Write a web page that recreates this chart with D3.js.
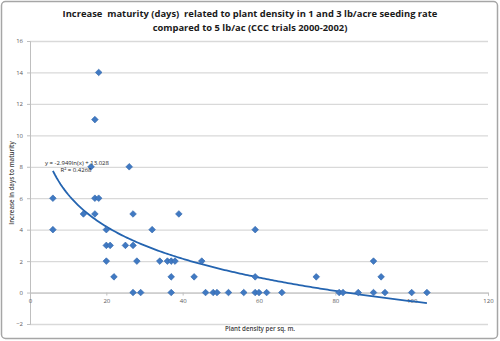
<!DOCTYPE html>
<html>
<head>
<meta charset="utf-8">
<script src="https://cdn.jsdelivr.net/npm/d3@7"></script>
<style>
  body { margin: 0; background: #fff; }
  text { font-family: "Open Sans", "DejaVu Sans", sans-serif; }
</style>
</head>
<body>
<div id="chart"></div>
<script>
// plant density (per sq. m.) and increase in days to maturity
var density = [6, 6, 14, 16, 17, 17, 17, 18, 18, 20, 20, 21, 20, 22, 25, 26, 27, 27, 28, 27, 29,
    32, 34, 36, 37, 38, 37, 37, 39, 43, 45, 46, 48, 49, 52, 56, 59, 59, 59, 60, 62, 66,
    75, 81, 82, 86, 90, 90, 92, 93, 100, 104];
var maturity = [6, 4, 5, 8, 11, 6, 5, 14, 6, 4, 3, 3, 2, 1, 3, 8, 5, 3, 2, 0, 0,
    4, 2, 2, 2, 2, 1, 0, 5, 1, 2, 0, 0, 0, 0, 0, 4, 1, 0, 0, 0, 0,
    1, 0, 0, 0, 2, 0, 1, 0, 0, 0];

// log trendline shown on the chart: y = a ln(x) + b
var trendA = -2.949, trendB = 13.028;
var trendRange = [6, 104];
var trendLabel = "y = -2.949ln(x) + 13.028";
var r2Label = "R\u00b2 = 0.4268";

var xTicks = [0, 20, 40, 60, 80, 100, 120];
var yTicks = [-2, 0, 2, 4, 6, 8, 10, 12, 14, 16];

var titleLines = ["Increase  maturity (days)  related to plant density in 1 and 3 lb/acre seeding rate",
    "compared to 5 lb/ac (CCC trials 2000-2002)"];
var xTitle = "Plant density per sq. m.";
var yTitle = "Increase in days to maturity";

var W = 500, H = 341;
var plot = { left: 30, right: 488, top: 41, bottom: 324 };

var svg = d3.select("#chart").append("svg")
    .attr("width", W)
    .attr("height", H);

// outer frame
svg.append("rect")
    .attr("x", 1.5).attr("y", 1.5)
    .attr("width", W - 4).attr("height", H - 4)
    .attr("rx", 4)
    .attr("fill", "#fff")
    .attr("stroke", "#a6a6a6")
    .attr("stroke-width", 1.5);

var xScale = d3.scaleLinear().domain([0, 120]).range([plot.left, plot.right]);
var yScale = d3.scaleLinear().domain([-2, 16]).range([plot.bottom, plot.top]);

// gridlines
svg.append("g")
    .attr("class", "grid")
    .attr("transform", "translate(" + plot.left + ",0)")
    .call(d3.axisLeft(yScale).tickValues(yTicks).tickSize(-(plot.right - plot.left)).tickFormat(""))
    .call(function (g) {
        g.select(".domain").remove();
        g.selectAll("line").attr("stroke", "#d9d9d9").attr("stroke-width", 1.3);
    });

// y axis
svg.append("g")
    .attr("class", "y axis")
    .attr("transform", "translate(" + plot.left + ",0)")
    .call(d3.axisLeft(yScale).tickValues(yTicks).tickSize(3).tickPadding(4))
    .call(function (g) {
        g.select(".domain").attr("stroke", "#bfbfbf");
        g.selectAll("line").attr("stroke", "#bfbfbf");
        g.selectAll("text").attr("fill", "#595959").style("font-size", "6px");
    });

// x axis, crossing at y = 0
svg.append("g")
    .attr("class", "x axis")
    .attr("transform", "translate(0," + yScale(0) + ")")
    .call(d3.axisBottom(xScale).tickValues(xTicks).tickSize(3).tickPadding(3))
    .call(function (g) {
        g.select(".domain").attr("stroke", "#bfbfbf");
        g.selectAll("line").attr("stroke", "#bfbfbf");
        g.selectAll("text").attr("fill", "#595959").style("font-size", "6px");
    });

// trendline
var trend = d3.range(trendRange[0], trendRange[1] + 0.5, 0.5).map(function (x) {
    return { x: x, y: trendA * Math.log(x) + trendB };
});
var line = d3.line()
    .x(function (d) { return xScale(d.x); })
    .y(function (d) { return yScale(d.y); });

svg.append("path")
    .datum(trend)
    .attr("d", line)
    .attr("fill", "none")
    .attr("stroke", "#2464b0")
    .attr("stroke-width", 1.8);

// points
var points = density.map(function (d, i) { return { x: d, y: maturity[i] }; });
var diamond = d3.symbol().type(d3.symbolSquare).size(22);
svg.append("g").selectAll("path")
    .data(points)
    .enter().append("path")
    .attr("d", diamond)
    .attr("transform", function (d) {
        return "translate(" + xScale(d.x) + "," + yScale(d.y) + ") rotate(45)";
    })
    .attr("fill", "#4079c2")
    .attr("stroke", "#3167ad")
    .attr("stroke-width", 0.6);

// trendline label
svg.append("text")
    .attr("x", 45).attr("y", 165)
    .attr("fill", "#262626")
    .style("font-size", "6px")
    .text(trendLabel);
svg.append("text")
    .attr("x", 76).attr("y", 172)
    .attr("text-anchor", "middle")
    .attr("fill", "#262626")
    .style("font-size", "6px")
    .text(r2Label);

// title
svg.append("g").selectAll("text")
    .data(titleLines)
    .enter().append("text")
    .attr("x", 250)
    .attr("y", function (d, i) { return 17 + i * 13.5; })
    .attr("text-anchor", "middle")
    .attr("fill", "#1a1a1a")
    .style("font-size", "9.4px")
    .style("font-weight", "bold")
    .style("white-space", "pre")
    .text(function (d) { return d; });

// axis titles
svg.append("text")
    .attr("x", 260).attr("y", 331)
    .attr("text-anchor", "middle")
    .attr("fill", "#404040")
    .style("font-size", "6.2px")
    .style("font-weight", "600")
    .text(xTitle);

svg.append("text")
    .attr("transform", "translate(14,183) rotate(-90)")
    .attr("text-anchor", "middle")
    .attr("fill", "#404040")
    .style("font-size", "6.2px")
    .style("font-weight", "600")
    .text(yTitle);
</script>
</body>
</html>
